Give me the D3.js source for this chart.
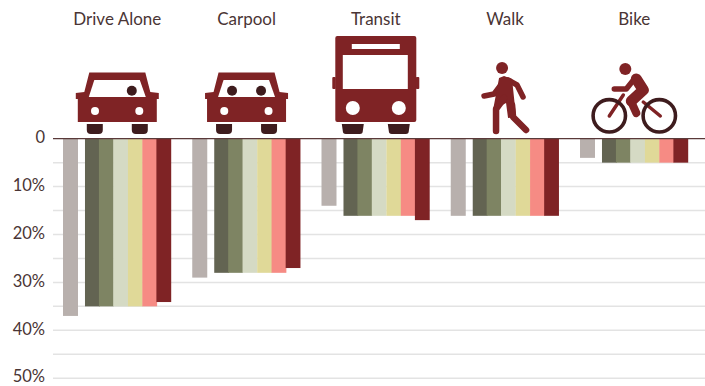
<!DOCTYPE html>
<html><head><meta charset="utf-8">
<script src="https://cdn.jsdelivr.net/npm/d3@7"></script>
<style>html,body{margin:0;padding:0;background:#fff}svg{display:block}text{font-family:"Lato",sans-serif;fill:#4a3535}</style>
</head><body><svg id="c" width="705" height="386"></svg>
<script>
const categories=["Drive Alone","Carpool","Transit","Walk","Bike"];
const icons=["car1","car2","bus","walk","bike"];
const seriesColors=["#b8b0ad","#636452","#7e8463","#d5dac4","#e0d998","#f68b84","#7f2325"];
const allWorkers=[37,29,14,16.1,4];
const s1=[35,28,16.1,16.1,5];
const s2=[35,28,16.1,16.1,5];
const s3=[35,28,16.1,16.1,5];
const s4=[35,28,16.1,16.1,5];
const s5=[35,28,16.1,16.1,5];
const s6=[34.1,27,17,16.1,5];
const series=[allWorkers,s1,s2,s3,s4,s5,s6];
const slots=[0,1.53,2.5,3.5,4.52,5.52,6.5];
const tickValues=[0,5,10,15,20,25,30,35,40,45,50];
const tickLabels=["0","10%","20%","30%","40%","50%"];

const svg=d3.select("#c");
const y=d3.scaleLinear().domain([0,50]).range([138.7,378.2]);
const gx=d3.scalePoint().domain(categories).range([63,63+129.25*4]);
const sx=d3.scaleLinear().domain([0,1]).range([0,14.37]);
const red="#7f2325",dark="#3e1c1e";

svg.append("g").selectAll("line").data(tickValues.slice(1)).join("line")
 .attr("x1",53).attr("x2",705).attr("y1",d=>y(d)).attr("y2",d=>y(d))
 .attr("stroke","#e3e3e3").attr("stroke-width",1.5);

series.forEach((vals,si)=>{
 svg.append("g").selectAll("rect").data(vals).join("rect")
  .attr("x",(d,i)=>gx(categories[i])+sx(slots[si]))
  .attr("y",y(0)).attr("width",si===0?15:14.8)
  .attr("height",d=>y(d)-y(0)).attr("fill",seriesColors[si]);
});

svg.append("line").attr("x1",53).attr("x2",705).attr("y1",y(0)).attr("y2",y(0))
 .attr("stroke","#5a3a3a").attr("stroke-width",1.3);

svg.append("g").selectAll("text").data(tickLabels).join("text")
 .attr("x",45).attr("y",(d,i)=>y(i*10)+4.2).attr("text-anchor","end")
 .attr("font-size",16.5).text(d=>d);

const cx=d=>gx(d)+54.3;
svg.append("g").selectAll("text").data(categories).join("text")
 .attr("x",d=>cx(d)).attr("y",25).attr("text-anchor","middle")
 .attr("font-size",17).text(d=>d);

function car(g,heads){
 g.append("path").attr("fill",red).attr("d","M-28,72.5 H28 L33,92 L41.5,93 V99 H39.5 V122 H-39.5 V99 H-41.5 V93 L-33,92 Z");
 g.append("path").attr("fill","#fff").attr("d","M-23,80 H22.5 L28.5,97 H-28.5 Z");
 heads.forEach(h=>g.append("circle").attr("cx",h).attr("cy",90.7).attr("r",5).attr("fill",dark));
 [-22.3,22].forEach(h=>g.append("circle").attr("cx",h).attr("cy",111).attr("r",4).attr("fill","#fff"));
 [-30.5,14.5].forEach(h=>g.append("path").attr("fill",dark).attr("d",`M${h},124 h16 v6 a4,4 0 0 1 -4,4 h-8 a4,4 0 0 1 -4,-4 Z`));
}
function bus(g){
 g.append("rect").attr("x",-40.5).attr("y",36).attr("width",81).attr("height",86).attr("rx",2).attr("fill",red);
 g.append("rect").attr("x",-24).attr("y",44).attr("width",48).attr("height",5).attr("fill","#fff");
 g.append("rect").attr("x",-33).attr("y",55).attr("width",65).attr("height",34).attr("fill","#fff");
 [-43.5,40].forEach(h=>g.append("rect").attr("x",h).attr("y",77).attr("width",3.5).attr("height",12).attr("rx",1).attr("fill",red));
 [-23,23].forEach(h=>g.append("circle").attr("cx",h).attr("cy",108).attr("r",7).attr("fill","#fff"));
 [-34,12].forEach(h=>g.append("path").attr("fill",dark).attr("d",`M${h},124 h22 l-1,7 a3,3 0 0 1 -3,3 h-14 a3,3 0 0 1 -3,-3 Z`));
}
function strokes(g,color,w,d){g.append("path").attr("fill","none").attr("stroke",color).attr("stroke-width",w).attr("stroke-linecap","round").attr("stroke-linejoin","round").attr("d",d);}
function walk(g){
 g.append("circle").attr("cx",-3).attr("cy",68).attr("r",6).attr("fill",red);
 strokes(g,red,5.5,"M-21,96 L-11,94 L-2,82");
 strokes(g,red,5.5,"M3,80 L12,85 L18,97");
 g.append("path").attr("fill",red).attr("d","M-6,78 L-1,76 L7,79 L11,117 L3,118 L1,103 L-12,110 Z");
 strokes(g,red,6.5,"M-1,98 L-9,109 V131");
 strokes(g,red,6.5,"M7,105 L8,117 L21,130");
}
function bike(g){
 strokes(g,red,3.5,"M-25,116 L-11,95");
 strokes(g,red,3.5,"M9,102 L26,116");
 [-25,25].forEach(h=>g.append("circle").attr("cx",h).attr("cy",115.8).attr("r",16.2).attr("fill","none").attr("stroke",dark).attr("stroke-width",3.6));
 g.append("circle").attr("cx",-9).attr("cy",69).attr("r",6).attr("fill",red);
 strokes(g,red,5.5,"M-20,89 L-8,89 L0,79");
 strokes(g,red,11,"M2,79 L9,90 L-3,101");
 strokes(g,red,8,"M-3,102 L2,113");
}
const draw={car1:g=>car(g,[14.5]),car2:g=>car(g,[-14.5,14.5]),bus,walk,bike};
categories.forEach((c,i)=>{
 const g=svg.append("g").attr("transform",`translate(${cx(c)},0)`);
 draw[icons[i]](g);
});
</script></body></html>
